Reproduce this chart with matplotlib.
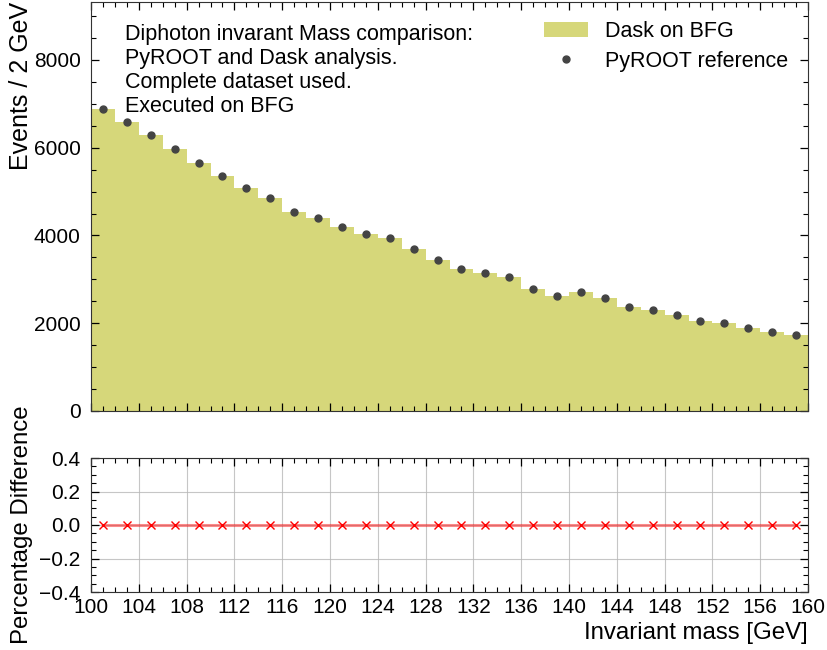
#!/usr/bin/env python3
"""Diphoton invariant mass: Dask on BFG vs PyROOT reference, with percentage difference."""

import matplotlib
matplotlib.use("Agg")
import matplotlib.pyplot as plt
import numpy as np
from matplotlib.ticker import MultipleLocator

bin_edges = list(range(100, 162, 2))

# counts per 2 GeV bin, 100-160 GeV
dask_counts = [6880, 6580, 6300, 5975, 5660, 5350, 5090, 4860, 4545, 4390,
               4182, 4035, 3932, 3695, 3432, 3240, 3155, 3045, 2780, 2620,
               2705, 2578, 2368, 2295, 2178, 2050, 1995, 1900, 1790, 1727]
pyroot_counts = [6880, 6580, 6300, 5975, 5660, 5350, 5090, 4860, 4545, 4390,
                 4182, 4035, 3932, 3695, 3432, 3240, 3155, 3045, 2780, 2620,
                 2705, 2578, 2368, 2295, 2178, 2050, 1995, 1900, 1790, 1727]

info_text = ("Diphoton invarant Mass comparison:\n"
             "PyROOT and Dask analysis.\n"
             "Complete dataset used.\n"
             "Executed on BFG")

plt.rcParams["font.family"] = ["Liberation Sans", "DejaVu Sans"]
plt.rcParams["font.size"] = 15
plt.rcParams["mathtext.default"] = "regular"

edges = np.array(bin_edges, dtype=float)
centers = 0.5 * (edges[1:] + edges[:-1])
dask = np.array(dask_counts, dtype=float)
ref = np.array(pyroot_counts, dtype=float)
pct_diff = (dask - ref) / ref * 100.0

fig = plt.figure(figsize=(8.27, 6.5), dpi=100)
ax = fig.add_axes([91 / 827, 1 - 411 / 650, 717 / 827, 409 / 650])
rax = fig.add_axes([91 / 827, 1 - 592 / 650, 717 / 827, 134 / 650], sharex=ax)

ax.stairs(dask, edges, fill=True, color="tab:olive", alpha=0.6, label="Dask on BFG")
ax.plot(centers, ref, "o", color="#444444", markersize=5, label="PyROOT reference")
ax.set_xlim(100, 160)
ax.set_ylim(0, 9320)
ax.set_ylabel("Events / 2 GeV", fontsize=18, loc="top")
ax.text(0.047, 0.945, info_text, transform=ax.transAxes, va="top", ha="left",
        fontsize=15.5, linespacing=1.18)
ax.legend(loc="upper right", frameon=False, fontsize=15.5, handlelength=2.05,
          labelspacing=0.4, borderaxespad=0.5, bbox_to_anchor=(1.0, 1.0))
ax.yaxis.set_major_locator(MultipleLocator(2000))
ax.yaxis.set_minor_locator(MultipleLocator(500))
plt.setp(ax.get_xticklabels(), visible=False)

rax.plot(centers, pct_diff, "-", color="red", alpha=0.45, lw=2.2)
rax.plot(centers, pct_diff, "x", color="red", markersize=5.5, mew=1.0)
rax.set_ylim(-0.4, 0.4)
rax.yaxis.set_major_locator(MultipleLocator(0.2))
rax.yaxis.set_minor_locator(MultipleLocator(0.05))
rax.grid(True, which="major", color="#b8b8b8", lw=0.8, alpha=0.8)
rax.set_ylabel("Percentage Difference", fontsize=17.3)
rax.set_xlabel("Invariant mass [GeV]", fontsize=17.3, loc="right")

for a in (ax, rax):
    a.xaxis.set_major_locator(MultipleLocator(4))
    a.xaxis.set_minor_locator(MultipleLocator(1))
    a.tick_params(which="both", direction="in", top=True, right=True)
    a.tick_params(which="major", length=6, width=0.9, labelsize=15)
    a.tick_params(which="minor", length=3.5, width=0.8)
    a.tick_params(axis="y", which="major", pad=7.5)
    a.tick_params(axis="x", which="major", pad=4)
    for s in a.spines.values():
        s.set_color("#333333")

ax.yaxis.set_label_coords(-0.081, 1.0)
rax.yaxis.set_label_coords(-0.081, 0.5)

fig.savefig("out.png", dpi=100)
